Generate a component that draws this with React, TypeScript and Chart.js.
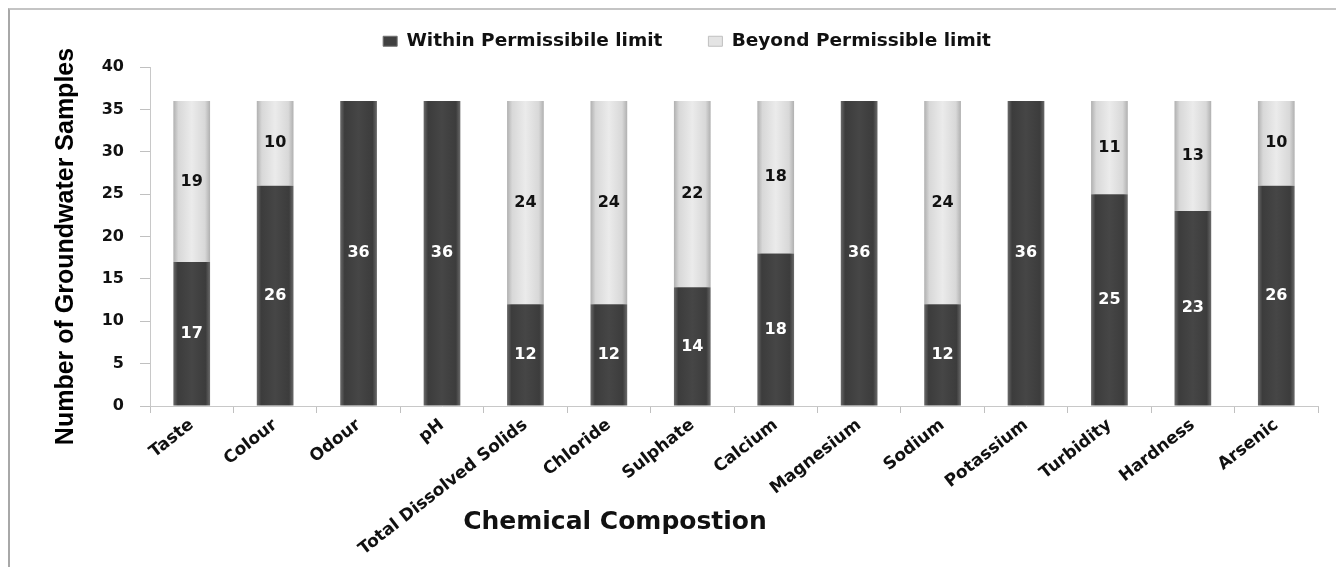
import React, { useEffect, useRef } from "react";
import { Chart, registerables } from "chart.js";

Chart.register(...registerables);

const categories = [
  "Taste", "Colour", "Odour", "pH", "Total Dissolved Solids", "Chloride", "Sulphate",
  "Calcium", "Magnesium", "Sodium", "Potassium", "Turbidity", "Hardness", "Arsenic",
];
const withinLimit = [17, 26, 36, 36, 12, 12, 14, 18, 36, 12, 36, 25, 23, 26];
const beyondLimit = [19, 10, 0, 0, 24, 24, 22, 18, 0, 24, 0, 11, 13, 10];
const yTicks = [0, 5, 10, 15, 20, 25, 30, 35, 40];

const FONT = "'DejaVu Sans', Verdana, sans-serif";
const BAR_FRACTION = 0.44;

function barGradient(ctx: any, stops: [number, string][]) {
  const chart = ctx.chart;
  const x = chart.scales?.x;
  if (!x || ctx.dataIndex === undefined) return stops[2][1];
  const cx = x.getPixelForValue(ctx.dataIndex);
  const w = (x.width / categories.length) * BAR_FRACTION;
  const g = chart.ctx.createLinearGradient(cx - w / 2, 0, cx + w / 2, 0);
  stops.forEach(([o, c]) => g.addColorStop(o, c));
  return g;
}

const darkStops: [number, string][] = [
  [0, "#6a6a6a"], [0.12, "#3c3c3c"], [0.5, "#464646"], [0.88, "#3c3c3c"], [1, "#6a6a6a"],
];
const lightStops: [number, string][] = [
  [0, "#b0b0b0"], [0.14, "#d8d8d8"], [0.5, "#ebebeb"], [0.86, "#d8d8d8"], [1, "#b0b0b0"],
];

const valueLabels = {
  id: "valueLabels",
  afterDatasetsDraw(chart: any) {
    const ctx = chart.ctx;
    ctx.save();
    ctx.font = `bold 16px ${FONT}`;
    ctx.textAlign = "center";
    ctx.textBaseline = "middle";
    chart.data.datasets.forEach((ds: any, di: number) => {
      const meta = chart.getDatasetMeta(di);
      meta.data.forEach((el: any, i: number) => {
        const v = ds.data[i];
        if (!v) return;
        const { x, y, base } = el.getProps(["x", "y", "base"], true);
        ctx.fillStyle = di === 0 ? "#ffffff" : "#111111";
        ctx.fillText(String(v), x, (y + base) / 2);
      });
    });
    ctx.restore();
  },
};

const LEGEND_PAD = 46;

const layoutTweaks = {
  id: "layoutTweaks",
  afterInit(chart: any) {
    const lg = chart.legend;
    if (!lg) return;
    const orig = lg.fit;
    lg.fit = function () {
      orig.call(this);
      this.height = 57;
    };
  },
  afterLayout(chart: any) {
    const lg = chart.legend;
    if (lg) {
      lg.left += 23;
      lg.right += 23;
      lg.top -= LEGEND_PAD - 22;
    }
    const y = chart.scales.y;
    if (y && !y.__titlePatched) {
      const origTitle = y.drawTitle;
      y.drawTitle = function (...args: any[]) {
        const t = this.top, b = this.bottom;
        this.top = t + 10;
        this.bottom = b + 10;
        origTitle.apply(this, args);
        this.top = t;
        this.bottom = b;
      };
      y.__titlePatched = true;
    }
  },
};

export default function App() {
  const ref = useRef<HTMLCanvasElement>(null);
  useEffect(() => {
    if (!ref.current) return;
    const chart = new Chart(ref.current, {
      type: "bar",
      data: {
        labels: categories,
        datasets: [
          {
            label: "Within Permissibile limit",
            data: withinLimit,
            backgroundColor: (c: any) => barGradient(c, darkStops),
            borderWidth: 0,
          },
          {
            label: "Beyond Permissible limit",
            data: beyondLimit,
            backgroundColor: (c: any) => barGradient(c, lightStops),
            borderWidth: 0,
          },
        ],
      },
      options: {
        responsive: false,
        animation: false,
        layout: { padding: { top: 0, right: 26, left: 0, bottom: 0 } },
        datasets: { bar: { barPercentage: BAR_FRACTION, categoryPercentage: 1 } },
        plugins: {
          legend: {
            position: "top",
            labels: {
              boxWidth: 14,
              boxHeight: 10,
              padding: LEGEND_PAD,
              color: "#111",
              font: { family: FONT, weight: "bold", size: 18.5 },
              generateLabels: (ch: any) =>
                ch.data.datasets.map((ds: any, i: number) => ({
                  text: ds.label,
                  fillStyle: i === 0 ? "#404040" : "#e4e4e4",
                  strokeStyle: i === 0 ? "#707070" : "#c0c0c0",
                  lineWidth: 1,
                  hidden: false,
                  datasetIndex: i,
                  fontColor: "#111",
                })),
            },
          },
          tooltip: { enabled: false },
        },
        scales: {
          x: {
            stacked: true,
            afterFit: (s: any) => { s.height = 161; },
            border: { display: true, color: "#c8c8c8", width: 1 },
            grid: {
              offset: true,
              drawOnChartArea: false,
              drawTicks: true,
              tickLength: 7,
              color: "#c0c0c0",
            },
            ticks: {
              autoSkip: false,
              maxRotation: 38,
              minRotation: 38,
              padding: 2,
              color: "#111",
              font: { family: FONT, weight: "bold", size: 17 },
            },
          },
          y: {
            stacked: true,
            min: 0,
            max: 40,
            afterFit: (s: any) => { s.width = 140; },
            afterBuildTicks: (s: any) => { s.ticks = yTicks.map((v) => ({ value: v })); },
            border: { display: true, color: "#c8c8c8", width: 1 },
            grid: {
              drawOnChartArea: false,
              drawTicks: true,
              tickLength: 10,
              color: "#c0c0c0",
            },
            ticks: {
              padding: 16,
              color: "#111",
              font: { family: FONT, weight: "bold", size: 16 },
            },
            title: {
              display: true,
              text: "Number of Groundwater Samples",
              color: "#000",
              padding: { top: 41, bottom: 0 },
              font: { family: "'Liberation Sans Narrow', 'Liberation Sans', sans-serif", weight: "bold", size: 25 },
            },
          },
        },
      },
      plugins: [valueLabels, layoutTweaks],
    });
    return () => chart.destroy();
  }, []);

  return (
    <div
      style={{
        position: "relative",
        width: 1336,
        height: 559,
        borderLeft: "2px solid #a8a8a8",
        borderTop: "2px solid #c4c4c4",
        boxSizing: "border-box",
        background: "#fff",
      }}
    >
      <canvas ref={ref} width={1334} height={557} style={{ display: "block" }} />
      <div
        style={{
          position: "absolute",
          left: 0,
          width: 1210,
          top: 496,
          textAlign: "center",
          fontFamily: FONT,
          fontWeight: "bold",
          fontSize: 25,
          color: "#111",
          lineHeight: "30px",
        }}
      >
        Chemical Compostion
      </div>
    </div>
  );
}
